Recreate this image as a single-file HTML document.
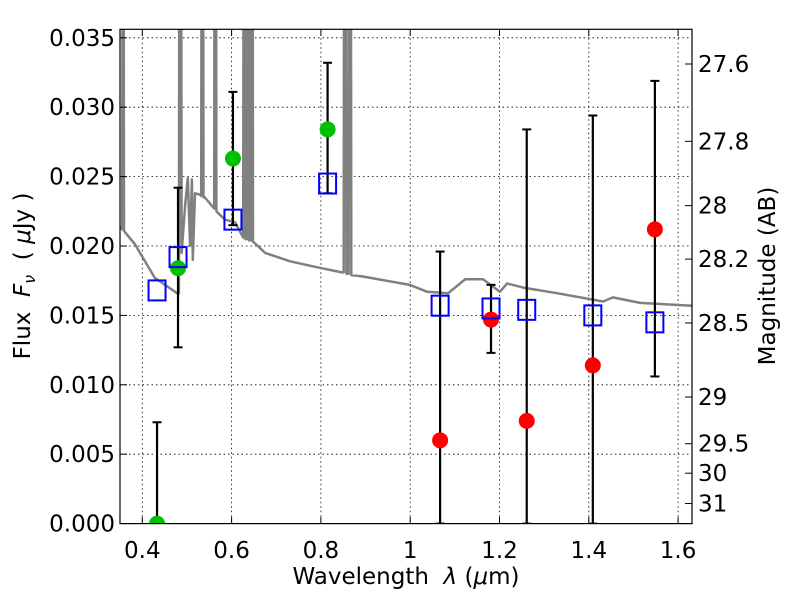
<!DOCTYPE html>
<html><head><meta charset="utf-8"><style>
body{margin:0;background:#fff}
svg text{font-family:"DejaVu Sans","Liberation Sans",sans-serif;fill:#000;white-space:pre}
</style></head><body>
<svg id="chart" width="800" height="600" xmlns="http://www.w3.org/2000/svg">
<defs><clipPath id="clip"><rect x="120" y="29.3" width="572" height="494.3"/></clipPath></defs>
<g id="grid"></g>
<g id="spec" clip-path="url(#clip)"></g>
<g id="marks" clip-path="url(#clip)"></g>
<rect x="120" y="29.3" width="572" height="494.3" fill="none" stroke="#000" stroke-width="1.2"/>
<g id="axes"></g>
<text x="406" y="584" font-size="23" text-anchor="middle">Wavelength  <tspan font-style="italic">λ</tspan> (<tspan font-style="italic">μ</tspan>m)</text>
<text transform="translate(30,276) rotate(-90)" font-size="23" text-anchor="middle">Flux  <tspan font-style="italic">F</tspan><tspan font-style="italic" font-size="16" dy="5">ν</tspan><tspan dy="-5">  ( </tspan><tspan font-style="italic">μ</tspan>Jy )</text>
<text transform="translate(775,276) rotate(-90)" font-size="23" text-anchor="middle">Magnitude (AB)</text>
</svg>
<script>
const xTicks=[0.4,0.6,0.8,1.0,1.2,1.4,1.6];
const xTickLabels=["0.4","0.6","0.8","1","1.2","1.4","1.6"];
const yTicks=[0,0.005,0.010,0.015,0.020,0.025,0.030,0.035];
const yTickLabels=["0.000","0.005","0.010","0.015","0.020","0.025","0.030","0.035"];
const magTicks=[27.6,27.8,28,28.2,28.5,29,29.5,30,31];
const magTickLabels=["27.6","27.8","28","28.2","28.5","29","29.5","30","31"];
const greenWave=[0.433,0.480,0.603,0.815];
const greenFlux=[0.0,0.0184,0.0263,0.0284];
const greenLo=[0.0,0.0127,0.0215,0.0238];
const greenHi=[0.0073,0.0242,0.0311,0.0332];
const redWave=[1.067,1.181,1.261,1.409,1.548];
const redFlux=[0.0060,0.0147,0.0074,0.0114,0.0212];
const redLo=[0.0,0.0123,0.0,0.0,0.0106];
const redHi=[0.0196,0.0172,0.0284,0.0294,0.0319];
const modelWave=[0.433,0.480,0.603,0.815,1.067,1.181,1.261,1.409,1.548];
const modelFlux=[0.0168,0.0192,0.0219,0.0245,0.0157,0.0155,0.0154,0.0150,0.0145];
const specWave=[0.350,0.355,0.356,0.358,0.359,0.361,0.384,0.406,0.428,0.451,0.478,0.482,0.483,0.487,0.488,0.496,0.502,0.507,0.511,0.513,0.518,0.529,0.532,0.533,0.536,0.537,0.540,0.561,0.562,0.565,0.566,0.585,0.608,0.626,0.627,0.630,0.631,0.634,0.635,0.638,0.639,0.643,0.644,0.647,0.648,0.652,0.675,0.731,0.787,0.847,0.851,0.852,0.856,0.857,0.862,0.863,0.867,0.868,0.894,0.999,1.038,1.085,1.123,1.163,1.201,1.217,1.253,1.329,1.432,1.454,1.515,1.631];
const specFlux=[0.0214,0.0212,0.05,0.05,0.0211,0.0210,0.0201,0.0189,0.0177,0.0172,0.0166,0.0166,0.05,0.05,0.0195,0.0230,0.0249,0.0200,0.0248,0.0190,0.0238,0.0237,0.0236,0.05,0.05,0.0235,0.0235,0.0227,0.05,0.05,0.0225,0.0219,0.0217,0.0206,0.05,0.05,0.0205,0.0205,0.05,0.05,0.0204,0.0204,0.05,0.05,0.0203,0.0202,0.0195,0.0189,0.0185,0.0181,0.0181,0.05,0.05,0.0180,0.0180,0.05,0.05,0.0179,0.0178,0.0172,0.0167,0.0166,0.0176,0.0176,0.0167,0.0173,0.0170,0.0166,0.0160,0.0163,0.0159,0.0157];
const NS="http://www.w3.org/2000/svg";
const X=v=>142.3+(v-0.4)*446.5;
const Y=v=>523.6-v*13880;
const M=m=>Y(Math.pow(10,(23.9-m)/2.5));
function mk(t,a,p){const e=document.createElementNS(NS,t);for(const k in a)e.setAttribute(k,a[k]);p.appendChild(e);return e;}
const grid=document.getElementById('grid'),axes=document.getElementById('axes'),spec=document.getElementById('spec'),marks=document.getElementById('marks');
xTicks.forEach((t,i)=>{
 const g=mk('line',{x1:X(t),x2:X(t),y1:29.3,y2:523.6,stroke:'#000','stroke-width':0.8,'stroke-dasharray':'1.5,3'},grid);
 
 
 mk('line',{x1:X(t),x2:X(t),y1:523.6,y2:517,stroke:'#000'},axes);
 mk('line',{x1:X(t),x2:X(t),y1:29.3,y2:36,stroke:'#000'},axes);
 const l=mk('text',{x:X(t),y:558,'font-size':23,'text-anchor':'middle'},axes);l.textContent=xTickLabels[i];
 
 
});
yTicks.forEach((t,i)=>{
 const g=mk('line',{x1:120,x2:692,y1:Y(t),y2:Y(t),stroke:'#000','stroke-width':0.8,'stroke-dasharray':'1.5,3'},grid);
 
 
 mk('line',{x1:120,x2:127,y1:Y(t),y2:Y(t),stroke:'#000'},axes);
 const l=mk('text',{x:115,y:Y(t)+8,'font-size':23,'text-anchor':'end'},axes);l.textContent=yTickLabels[i];
 
 
});
magTicks.forEach((m,i)=>{
 mk('line',{x1:692,x2:685,y1:M(m),y2:M(m),stroke:'#000'},axes);
 const l=mk('text',{x:698,y:M(m)+8,'font-size':23},axes);l.textContent=magTickLabels[i];
 
 
});
const pts=specWave.map((w,i)=>X(w).toFixed(1)+','+Y(specFlux[i]).toFixed(1)).join(' ');
const sp=mk('polyline',{points:pts,fill:'none',stroke:'#808080','stroke-width':2.5,'stroke-linejoin':'round'},spec);


function errs(w,lo,hi,name){w.forEach((v,i)=>{
 const e=mk('g',{},marks);
 
 
 mk('line',{x1:X(v),x2:X(v),y1:Y(lo[i]),y2:Y(hi[i]),stroke:'#000','stroke-width':2.2},e);
 mk('line',{x1:X(v)-4.5,x2:X(v)+4.5,y1:Y(lo[i]),y2:Y(lo[i]),stroke:'#000','stroke-width':2},e);
 mk('line',{x1:X(v)-4.5,x2:X(v)+4.5,y1:Y(hi[i]),y2:Y(hi[i]),stroke:'#000','stroke-width':2},e);
});}
errs(greenWave,greenLo,greenHi,'green-errorbar');
errs(redWave,redLo,redHi,'red-errorbar');
greenWave.forEach((v,i)=>{const c=mk('circle',{cx:X(v),cy:Y(greenFlux[i]),r:8,fill:'#00c000'},marks);
 
 });
redWave.forEach((v,i)=>{const c=mk('circle',{cx:X(v),cy:Y(redFlux[i]),r:8,fill:'#ff0000'},marks);
 
 });
modelWave.forEach((v,i)=>{const r=mk('rect',{x:X(v)-8.5,y:Y(modelFlux[i])-10,width:17,height:20,fill:'none',stroke:'#0000ff','stroke-width':2},marks);
 
 });
</script>
</body></html>
